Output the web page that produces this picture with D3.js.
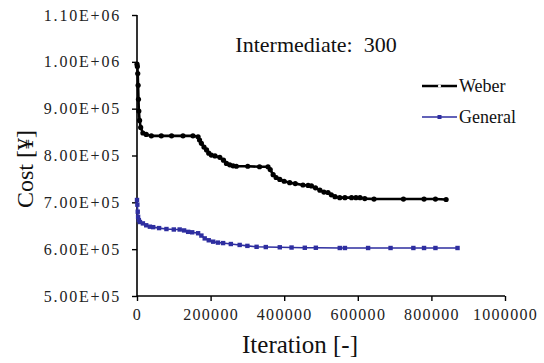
<!DOCTYPE html>
<html><head><meta charset="utf-8">
<script src="https://cdn.jsdelivr.net/npm/d3@7"></script>
<style>
body{margin:0;background:#fff;}
svg text{font-family:"Liberation Serif","Times New Roman",serif !important;}
</style></head>
<body><svg id="c" width="544" height="363"></svg>
<script>
const title = "Intermediate:  300";
const xLabel = "Iteration [-]";
const yLabel = "Cost [\u00A5]";
const seriesNames = ["Weber", "General"];
const xTicks = [0, 200000, 400000, 600000, 800000, 1000000];
const yTicks = [500000, 600000, 700000, 800000, 900000, 1000000, 1100000];
const yTickLabels = ["5.00E+05","6.00E+05","7.00E+05","8.00E+05","9.00E+05","1.00E+06","1.10E+06"];

const weberX = [0,1000,2000,3000,4000,5000,7000,10000,16000,25000,39000,66000,94000,125000,152000,166000,170000,175000,182000,189000,195000,202000,212000,225000,235000,243000,252000,261000,270000,301000,333000,356000,362000,370000,378000,388000,400000,415000,430000,451000,465000,474000,485000,497000,508000,519000,528000,538000,551000,565000,583000,595000,606000,619000,644000,724000,780000,811000,840000];
const weberY = [995000,990000,975000,950000,920000,895000,875000,860000,848000,845000,842000,842000,842000,842000,842000,840000,833000,826000,818000,812000,805000,801000,799000,796000,790000,783000,780000,778000,777000,777000,776000,776000,770000,759000,753000,749000,745000,742000,740000,737000,736000,735000,731000,726000,722000,721000,716000,712000,710000,710000,710000,710000,710000,708000,707000,707000,707000,707000,706000];

const generalX = [0,1000,2000,3000,5000,8000,16000,25000,35000,44000,60000,80000,100000,116000,128000,139000,150000,166000,175000,184000,195000,207000,220000,234000,255000,279000,300000,325000,350000,388000,420000,456000,486000,551000,565000,628000,689000,751000,780000,811000,871000];
const generalY = [705000,695000,680000,669000,662000,658000,655000,651000,648000,647000,645000,643000,642000,642000,640000,637000,636000,634000,629000,623000,619000,616000,614000,613000,611000,609000,607000,605000,604500,604000,603500,603000,603000,602500,602500,602500,602500,602500,602500,602500,602500];

const colors = ["#000000", "#2e2ea0"];
const FONT = '"Liberation Serif","Times New Roman",serif';
const svg = d3.select("#c");
const L = 137, R = 505, T = 15, B = 296;
const x = d3.scaleLinear().domain([0, 1000000]).range([L, R]);
const y = d3.scaleLinear().domain([500000, 1100000]).range([B, T]);

const xAxis = svg.append("g").attr("transform", `translate(0,${B})`)
  .call(d3.axisBottom(x).tickValues(xTicks).tickFormat(d3.format("d")).tickSize(5).tickPadding(8));
const yAxis = svg.append("g").attr("transform", `translate(${L},0)`)
  .call(d3.axisLeft(y).tickValues(yTicks).tickFormat((d,i)=>yTickLabels[i]).tickSize(5).tickPadding(11));
[xAxis, yAxis].forEach(g=>{
  g.attr("font-family", FONT);
  g.select(".domain").attr("stroke","#000").attr("stroke-width",1.6);
  g.selectAll(".tick line").attr("stroke","#000").attr("stroke-width",1.4);
  g.selectAll("text").style("font-family", FONT).attr("font-size",16).attr("fill","#222");
});
xAxis.selectAll("text").attr("letter-spacing",1.3);
yAxis.selectAll("text").attr("letter-spacing",1.8);
xAxis.select(".domain").attr("d", `M${L},0H${R}`);
yAxis.select(".domain").attr("d", `M0,${B}V${T}`);

const data = [
  weberX.map((v,i)=>[v, weberY[i]]),
  generalX.map((v,i)=>[v, generalY[i]])
];
const line = d3.line().x(d=>x(d[0])).y(d=>y(d[1]));
data.forEach((pts, k)=>{
  const g = svg.append("g");
  g.append("path").datum(pts).attr("d", line).attr("fill","none")
    .attr("stroke", colors[k]).attr("stroke-width", k===0 ? 2.6 : 1.6);
  if (k===0) {
    g.selectAll("circle").data(pts).join("circle")
      .attr("cx", d=>x(d[0])).attr("cy", d=>y(d[1])).attr("r", 2.6).attr("fill", colors[k]);
  } else {
    g.selectAll("rect").data(pts).join("rect")
      .attr("x", d=>x(d[0])-2.2).attr("y", d=>y(d[1])-2.2).attr("width",4.4).attr("height",4.4).attr("fill", colors[k]);
  }
});

svg.append("text").attr("x", 316).attr("y", 52).attr("text-anchor","middle").style("font-family", FONT)
  .attr("font-size", 22).attr("fill","#111").style("white-space","pre").text(title);

const legY = [86, 117];
seriesNames.forEach((n,k)=>{
  svg.append("line").attr("x1",422).attr("x2",457).attr("y1",legY[k]).attr("y2",legY[k])
    .attr("stroke",colors[k]).attr("stroke-width", k===0?2.4:1.6);
  if (k===0) svg.append("circle").attr("cx",439.5).attr("cy",legY[k]).attr("r",1.6).attr("fill","#fff");
  else svg.append("rect").attr("x",437.5).attr("y",legY[k]-2).attr("width",4).attr("height",4).attr("fill",colors[k]);
  svg.append("text").attr("x",459).attr("y",legY[k]+6).attr("font-size",18).attr("fill","#111").style("font-family", FONT).text(n);
});

svg.append("text").attr("x", 300).attr("y", 353).attr("text-anchor","middle").style("font-family", FONT)
  .attr("font-size", 25).attr("fill","#111").text(xLabel);
svg.append("text").attr("transform","translate(33,169) rotate(-90)").attr("text-anchor","middle").style("font-family", FONT)
  .attr("font-size", 24).attr("fill","#111").text(yLabel);
</script></body></html>
